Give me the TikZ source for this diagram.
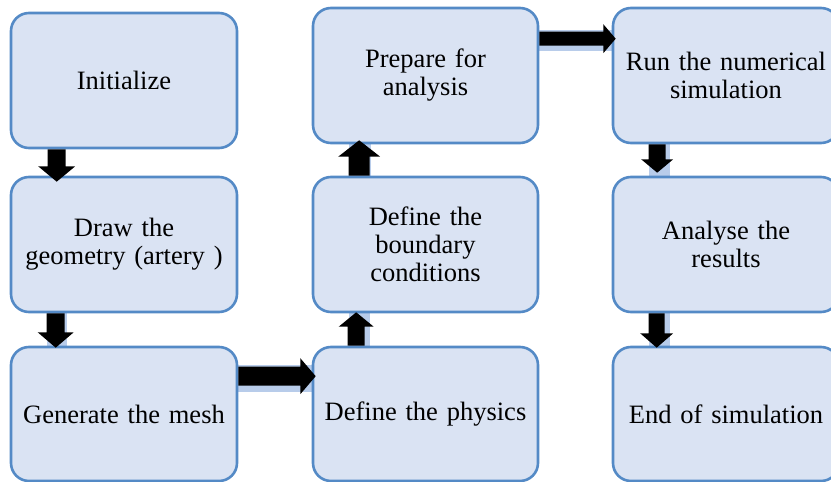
\documentclass[tikz,border=0pt]{standalone}
\usepackage{fontspec}
\setmainfont{Liberation Serif}
\usetikzlibrary{calc}
\definecolor{boxfill}{RGB}{218,227,243}
\definecolor{boxline}{RGB}{84,138,198}
\definecolor{bandcol}{RGB}{184,204,234}
\tikzset{
  stepbox/.style={draw=boxline, fill=boxfill, line width=2.6pt, rounded corners=18pt,
    minimum width=226pt, minimum height=135pt, inner sep=0pt, text width=215pt, align=center,
    font=\fontsize{26.5}{28}\selectfont},
  blk/.style={fill=black},
  band/.style={fill=bandcol}
}
% vertical block arrow: #1 src anchor, #2 dst anchor, #3 x offset, #4 shaft half, #5 head half, #6 head base offset from src, #7 tip offset from dst
\newcommand\vblock[7]{%
  \fill[blk] ($(#1)+(#3-#4,0)$) -- ($(#1)+(#3+#4,0)$) -- ($(#1)+(#3+#4,#6)$) -- ($(#1)+(#3+#5,#6)$)
    -- ($(#2)+(#3,#7)$) -- ($(#1)+(#3-#5,#6)$) -- ($(#1)+(#3-#4,#6)$) -- cycle;}
% horizontal block arrow: #3 y offset
\newcommand\hblock[7]{%
  \fill[blk] ($(#1)+(0,#3-#4)$) -- ($(#1)+(0,#3+#4)$) -- ($(#1)+(#6,#3+#4)$) -- ($(#1)+(#6,#3+#5)$)
    -- ($(#2)+(#7,#3)$) -- ($(#1)+(#6,#3-#5)$) -- ($(#1)+(#6,#3-#4)$) -- cycle;}
\begin{document}
\begin{tikzpicture}[x=1pt,y=-1pt]
\useasboundingbox (0,0) rectangle (831,482);
\begin{scope}
\clip (0,0) rectangle (831,482);
% connector bands
\fill[band] (47,312) rectangle (67,347);
\fill[band] (237,365) rectangle (313,392);
\fill[band] (349,312) rectangle (370,347);
\fill[band] (349,143) rectangle (371,177);
\fill[band] (538,30) rectangle (613,51);
\fill[band] (649,143) rectangle (670,177);
\fill[band] (649,312) rectangle (670,347);
% boxes
\node[stepbox] (init) at (124,80.5) {Initialize};
\node[stepbox] (geom) at (124,244.5) {Draw the\\geometry (artery )};
\node[stepbox, minimum height=134pt] (mesh) at (124,414) {Generate the mesh};
\node[stepbox, minimum width=225pt] (prep) at (425.5,75.5) {Prepare for\\analysis};
\node[stepbox, minimum width=225pt] (bc) at (425.5,244.5) {Define the\\boundary\\conditions};
\node[stepbox, minimum width=225pt, minimum height=134pt] (phys) at (425.5,414) {Define the physics};
\node[stepbox] (run) at (726,75.5) {Run the numerical\\simulation};
\node[stepbox] (res) at (726,244.5) {Analyse the\\results};
\node[stepbox, minimum height=134pt] (end) at (726,414) {End of simulation};
% arrows
\vblock{init.south west}{geom.north west}{47}{9}{18.5}{17}{6}
\vblock{geom.south west}{mesh.north west}{46}{9}{18}{19}{2}
\hblock{mesh.north east}{phys.north west}{30.5}{9.5}{18}{62}{4}
\vblock{phys.north west}{bc.south west}{44.5}{8.5}{17.5}{-19}{-1}
\vblock{bc.north west}{prep.south west}{47.5}{10.5}{21}{-19}{-4}
\hblock{prep.north east}{run.north west}{32}{7}{14.5}{64}{4}
\vblock{run.south west}{res.north west}{45.5}{8.5}{16}{15}{-3}
\vblock{res.south west}{end.north west}{45}{8}{16.5}{20}{2}
\end{scope}
\end{tikzpicture}
\end{document}
